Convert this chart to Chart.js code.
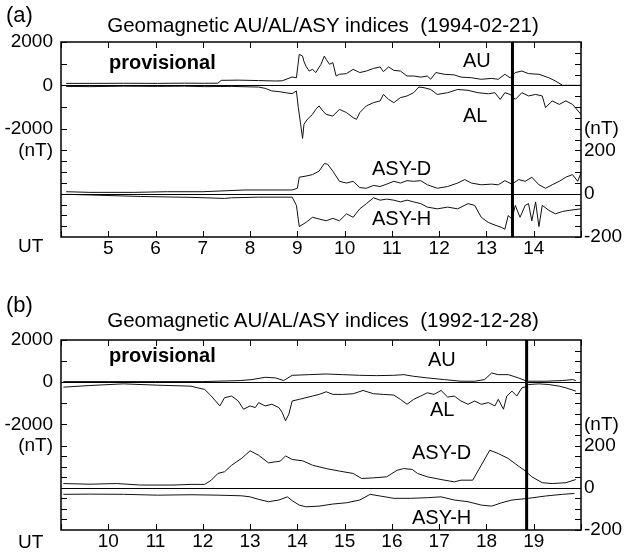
<!DOCTYPE html>
<html>
<head>
<meta charset="utf-8">
<title>Geomagnetic AU/AL/ASY indices</title>
<script src="https://cdn.jsdelivr.net/npm/chart.js@4.4.1/dist/chart.umd.min.js"></script>
<style>
  body { margin: 0; background: #fff; }
  #page { position: relative; width: 627px; height: 555px; overflow: hidden;
          font-family: 'Liberation Sans', Arial, sans-serif; color: #000; }
  #page canvas { position: absolute; left: 0; }
  .lbl { position: absolute; font-size: 20px; line-height: 20px; white-space: nowrap; }
  .big { font-size: 22px; line-height: 22px; }
  .ut { font-size: 19px; line-height: 19px; }
  .bold { font-weight: bold; }
  .title { transform: translateX(-50%); font-size: 20.5px; }
</style>
</head>
<body>
<div id="page">
  <canvas id="chartA" width="627" height="262" style="top:0px"></canvas>
  <canvas id="chartB" width="627" height="257" style="top:298px"></canvas>

  <div class="lbl big" style="left:6px;top:4px">(a)</div>
  <div class="lbl title" style="left:323px;top:15px">Geomagnetic AU/AL/ASY indices&nbsp;&nbsp;(1994-02-21)</div>
  <div class="lbl bold" style="left:109px;top:52px">provisional</div>
  <div class="lbl" style="left:463px;top:50px">AU</div>
  <div class="lbl" style="left:463px;top:105px">AL</div>
  <div class="lbl" style="left:372px;top:158px">ASY-D</div>
  <div class="lbl" style="left:372px;top:208px">ASY-H</div>
  <div class="lbl ut" style="left:18px;top:236px">UT</div>

  <div class="lbl big" style="left:6px;top:294px">(b)</div>
  <div class="lbl title" style="left:323px;top:310px">Geomagnetic AU/AL/ASY indices&nbsp;&nbsp;(1992-12-28)</div>
  <div class="lbl bold" style="left:109px;top:345px">provisional</div>
  <div class="lbl" style="left:428px;top:349px">AU</div>
  <div class="lbl" style="left:430px;top:399px">AL</div>
  <div class="lbl" style="left:412px;top:442px">ASY-D</div>
  <div class="lbl" style="left:412px;top:507px">ASY-H</div>
  <div class="lbl ut" style="left:18px;top:532px">UT</div>
</div>
<script>
// ================= Data: (a) 1994-02-21 =================
const rangeA = [4, 15];
const markerA = 13.55;

const utAuA = [4.11,4.61,5.32,6.04,6.61,7.04,7.32,7.39,7.75,8.18,8.54,8.68,8.89,8.98,9.04,9.11,9.14,9.18,9.25,9.32,
               9.39,9.5,9.57,9.61,9.68,9.75,9.82,9.89,10.04,10.18,10.32,10.46,10.61,10.75,10.82,10.93,11.04,11.18,11.32,11.46,
               11.61,11.75,11.82,11.93,12.11,12.32,12.46,12.68,12.89,13.11,13.25,13.39,13.5,13.61,13.75,13.89,14.11,14.32,14.46,14.61,15.0];
const auA   = [90,90,95,90,100,95,100,230,240,220,200,210,385,350,1430,1350,1100,890,660,740,
               590,970,1350,1200,970,1050,430,510,540,740,590,660,780,850,630,850,690,660,430,430,
               380,430,280,590,510,480,380,350,280,320,280,510,350,590,660,540,510,350,200,0,0];

const utAlA = [4.11,4.61,5.32,6.04,6.61,7.04,7.61,8.18,8.32,8.46,8.61,8.75,8.89,8.98,9.02,9.07,9.11,9.14,9.21,9.32,
               9.39,9.46,9.54,9.61,9.75,9.89,10.04,10.18,10.25,10.32,10.46,10.61,10.75,10.82,10.93,11.04,11.18,11.32,11.46,11.57,
               11.68,11.82,11.96,12.18,12.39,12.61,12.82,13.04,13.18,13.29,13.39,13.5,13.61,13.75,13.89,14.04,14.18,14.25,14.39,14.54,
               14.68,14.82,15.0];
const alA   = [-50,-60,-40,-50,-40,-60,-50,-80,-140,-260,-290,-340,-385,-260,-1030,-1800,-2450,-1800,-1570,-1340,
               -1110,-950,-1190,-1340,-1420,-1110,-1260,-1490,-1570,-1260,-950,-800,-720,-420,-650,-800,-570,-490,-340,-80,
               -110,-190,-420,-340,-190,-230,-340,-390,-340,-650,-340,-420,-650,-340,-490,-420,-490,-1030,-720,-880,
               -720,-880,-1340];

const utAsyDA = [4.11,4.61,5.54,6.25,7.0,7.89,8.89,9.0,9.04,9.18,9.32,9.46,9.57,9.64,9.75,9.89,10.04,10.18,10.32,10.46,
                 10.61,10.75,10.89,11.04,11.18,11.32,11.46,11.61,11.75,11.96,12.18,12.39,12.54,12.68,12.89,13.11,13.25,13.39,13.54,13.68,
                 13.82,13.96,14.11,14.25,14.39,14.54,14.68,14.82,14.93,15.0];
const asyDA   = [9,6,6,9,9,17,17,25,76,81,88,104,139,136,104,57,49,57,28,25,
                 38,33,44,57,49,60,57,60,41,25,33,49,65,49,41,44,41,60,44,65,
                 57,76,41,25,41,57,76,88,57,96];

const utAsyHA = [4.11,4.61,5.68,6.75,7.46,7.61,8.18,8.89,8.98,9.04,9.18,9.32,9.46,9.61,9.75,9.89,10.04,10.18,10.32,10.46,
                 10.61,10.75,10.89,11.04,11.18,11.32,11.46,11.61,11.75,11.96,12.18,12.39,12.61,12.75,12.89,13.04,13.18,13.32,13.39,13.46,
                 13.54,13.61,13.71,13.82,13.89,13.96,14.04,14.11,14.18,14.32,14.46,14.61,14.75,15.0];
const asyHA   = [-3,-6,-13,-17,-22,-19,-16,-16,-54,-152,-133,-109,-117,-125,-114,-125,-93,-109,-70,-46,
                 -19,-30,-25,-30,-38,-30,-38,-46,-62,-70,-62,-70,-46,-54,-109,-133,-145,-156,-164,-101,
                 -117,-54,-109,-54,-46,-125,-38,-152,-54,-77,-93,-82,-77,-70];

// ================= Data: (b) 1992-12-28 =================
const rangeB = [9, 20];
const markerB = 18.85;

const utAuB = [9.05,10.0,11.0,12.0,12.79,13.04,13.32,13.54,13.71,13.89,14.25,14.61,14.96,15.32,15.68,16.04,16.25,16.46,16.75,17.11,
               17.46,17.75,17.96,18.11,18.25,18.46,18.68,18.82,18.89,19.25,19.61,19.82,19.89];
const auB   = [30,30,30,30,78,125,234,203,78,328,359,390,359,328,312,328,359,281,203,125,
               47,47,125,437,359,359,203,78,47,47,78,125,78];

const utAlB = [9.05,9.61,10.32,11.04,11.75,11.89,12.04,12.18,12.36,12.46,12.61,12.75,12.86,13.0,13.11,13.18,13.32,13.46,13.61,13.68,
               13.75,13.82,13.89,14.04,14.18,14.32,14.46,14.61,14.75,14.96,15.18,15.39,15.61,15.82,16.04,16.18,16.32,16.46,16.61,16.75,
               16.89,17.04,17.18,17.32,17.46,17.61,17.75,17.89,18.04,18.18,18.25,18.36,18.43,18.54,18.64,18.75,18.82,18.89,19.11,19.32,
               19.54,19.68,19.89];
const alB   = [-234,-156,-78,-140,-187,-265,-343,-655,-1123,-733,-655,-889,-1279,-1123,-1201,-967,-1123,-1045,-1201,-1435,
               -1825,-1513,-889,-811,-733,-655,-577,-452,-577,-577,-546,-390,-546,-577,-608,-811,-1045,-811,-655,-499,
               -577,-390,-702,-655,-889,-1045,-889,-1045,-967,-1123,-811,-1279,-655,-421,-655,-265,-218,-109,-78,-109,
               -187,-265,-421];

const utAsyDB = [9.05,9.61,10.18,10.68,11.39,11.75,12.04,12.18,12.32,12.46,12.61,12.82,13.0,13.18,13.39,13.54,13.64,13.75,13.89,14.11,
                 14.32,14.61,14.89,15.18,15.36,15.61,15.89,16.11,16.25,16.43,16.54,16.75,17.04,17.32,17.46,17.71,17.89,18.07,18.25,18.46,
                 18.68,18.82,18.96,19.18,19.39,19.68,19.89];
const asyDB   = [20,17,20,13,13,16,16,36,68,76,107,139,175,154,118,123,126,151,134,128,
                 107,91,79,68,44,47,52,83,91,87,68,52,39,28,36,36,107,178,162,139,
                 102,80,52,24,20,24,39];

const utAsyHB = [9.05,9.61,10.32,11.04,11.75,12.32,12.82,13.0,13.18,13.39,13.61,13.79,13.89,14.04,14.18,14.46,14.75,15.04,15.32,15.54,
                 15.75,16.04,16.39,16.75,17.04,17.32,17.61,17.89,18.11,18.32,18.54,18.89,19.25,19.61,19.86];
const asyHB   = [-31,-30,-31,-35,-33,-35,-38,-43,-55,-66,-58,-43,-61,-82,-90,-87,-77,-71,-58,-31,
                 -39,-50,-50,-47,-43,-58,-66,-82,-87,-71,-58,-50,-39,-31,-27];

// ================= Axes =================
// left axis: AU/AL (nT), right axis: ASY (nT); both panels share them
const leftTicks  = [2000,1000,0,-1000,-2000,-3000,-3500,-4000,-4500,-5000,-5500,-6000,-6500];
const leftLabels = { '2000': '2000', '0': '0', '-2000': '-2000', '-3000': '(nT)' };
const rightTicks = [-200,-150,-100,-50,0,50,100,150,200,250,300,350,400,450,500,550,600,650];
const rightLabels = { '200': '200', '0': '0', '-200': '-200', '300': '(nT)' };

const FONT = { family: "'Liberation Sans', Arial, sans-serif", size: 19 };

// ================= Frame, inward ticks, zero lines, marker =================
const frameAndTicks = {
    id: 'frameAndTicks',
    afterDatasetsDraw(chart, args, opts) {
        const { ctx, chartArea: a, scales } = chart;
        const len = 6;
        const seg = (x1, y1, x2, y2) => { ctx.beginPath(); ctx.moveTo(x1, y1); ctx.lineTo(x2, y2); ctx.stroke(); };
        const px = (s, v) => Math.round(s.getPixelForValue(v)) + 0.5;
        ctx.save();
        ctx.strokeStyle = '#000';
        ctx.lineWidth = 1;
        [scales.y, scales.y1].forEach(s => seg(a.left, px(s, 0), a.right, px(s, 0)));
        scales.x.ticks.forEach(t => {
            const x = px(scales.x, t.value);
            seg(x, a.bottom, x, a.bottom - len);
            seg(x, a.top, x, a.top + len);
        });
        scales.y.ticks.forEach(t => { const y = px(scales.y, t.value); seg(a.left, y, a.left + len, y); });
        scales.y1.ticks.forEach(t => { const y = px(scales.y1, t.value); seg(a.right, y, a.right - len, y); });
        ctx.lineWidth = 1.5;
        ctx.strokeRect(a.left, a.top, a.width, a.height);
        ctx.lineWidth = 3;
        const mx = scales.x.getPixelForValue(opts.marker);
        seg(mx, a.top, mx, a.bottom);
        ctx.restore();
    }
};

function toPoints(times, vals) {
    return times.map((t, i) => ({ x: t, y: vals[i] }));
}

function lineSet(times, vals, axis) {
    return {
        data: toPoints(times, vals),
        yAxisID: axis,
        borderColor: '#111',
        borderWidth: 1,
        pointRadius: 0,
        tension: 0,
        fill: false
    };
}

function makePanel(id, range, marker, sets) {
    const noGrid = { display: false, drawTicks: false };
    return new Chart(document.getElementById(id), {
        type: 'line',
        data: { datasets: sets },
        options: {
            responsive: false,
            animation: false,
            layout: { padding: { top: 42, left: 0, right: 0, bottom: 0 } },
            plugins: {
                legend: { display: false },
                tooltip: { enabled: false },
                frameAndTicks: { marker }
            },
            scales: {
                x: {
                    type: 'linear', min: range[0], max: range[1],
                    grid: noGrid, border: { display: false },
                    ticks: {
                        stepSize: 1, autoSkip: false, maxRotation: 0, padding: 0,
                        color: '#000', font: FONT,
                        callback: v => (v > range[0] && v < range[1]) ? String(v) : ''
                    },
                    afterFit: s => { s.height = 25; }
                },
                y: {
                    position: 'left', min: -7000, max: 2000,
                    grid: noGrid, border: { display: false },
                    ticks: { autoSkip: false, padding: 8, color: '#000', font: FONT,
                             callback: v => leftLabels[v] ?? '' },
                    afterBuildTicks: s => { s.ticks = leftTicks.map(v => ({ value: v })); },
                    afterFit: s => { s.width = 61; }
                },
                y1: {
                    position: 'right', min: -200, max: 700,
                    grid: noGrid, border: { display: false },
                    ticks: { autoSkip: false, padding: 3, color: '#000', font: FONT,
                             callback: v => rightLabels[v] ?? '' },
                    afterBuildTicks: s => { s.ticks = rightTicks.map(v => ({ value: v })); },
                    afterFit: s => { s.width = 46; }
                }
            }
        },
        plugins: [frameAndTicks]
    });
}

// ================= Init =================
makePanel('chartA', rangeA, markerA, [
    lineSet(utAuA, auA, 'y'),
    lineSet(utAlA, alA, 'y'),
    lineSet(utAsyDA, asyDA, 'y1'),
    lineSet(utAsyHA, asyHA, 'y1')
]);

makePanel('chartB', rangeB, markerB, [
    lineSet(utAuB, auB, 'y'),
    lineSet(utAlB, alB, 'y'),
    lineSet(utAsyDB, asyDB, 'y1'),
    lineSet(utAsyHB, asyHB, 'y1')
]);
</script>
</body>
</html>
